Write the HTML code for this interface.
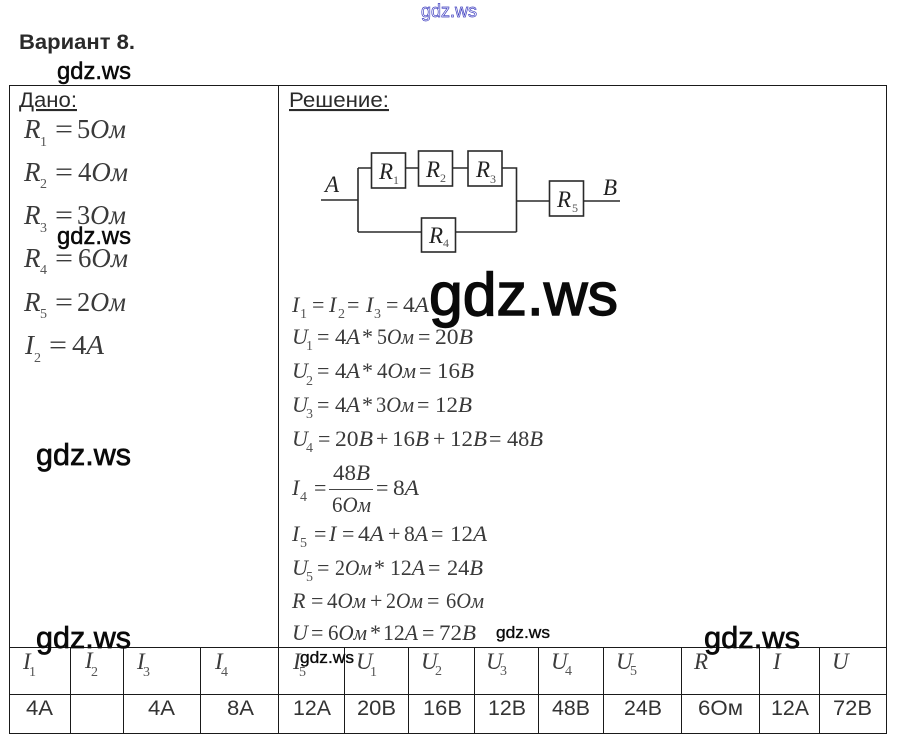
<!DOCTYPE html>
<html><head><meta charset="utf-8">
<style>
html,body{margin:0;padding:0;background:#fff;width:897px;height:747px;overflow:hidden}
svg{display:block}
text{white-space:pre}
.s{font-family:"Liberation Sans",sans-serif;fill:#2a2a2a}
.m{font-family:"Liberation Serif",serif;font-style:italic;fill:#3a3a3a}
.u{font-style:normal}
.n{font-family:"Liberation Serif",serif;font-size:14px;fill:#555}
.w{font-family:"Liberation Sans",sans-serif;fill:#0a0a0a;stroke:#0a0a0a}
.v{font-family:"Liberation Sans",sans-serif;font-size:21px;fill:#333}
.l{stroke:#1a1a1a;stroke-width:1;fill:none}
.c{stroke:#2a2a2a;stroke-width:1.6;fill:#fff}
.g{font-size:27px}
.r{font-size:22px}
.h{font-size:23px}
</style></head><body>
<svg width="897" height="747" viewBox="0 0 897 747" xmlns="http://www.w3.org/2000/svg">
<rect width="897" height="747" fill="#fff"/>
<text x="421" y="17" font-family="Liberation Sans,sans-serif" font-size="18" fill="#fff" stroke="#4040c0" stroke-width=".7" textLength="56" lengthAdjust="spacingAndGlyphs">gdz.ws</text>
<text x="19" y="49" class="s" font-size="21" font-weight="bold" fill="#222" textLength="116" lengthAdjust="spacingAndGlyphs">Вариант 8.</text>

<!-- table -->
<path class="l" d="M9.5 85.5H886.5V733.5H9.5ZM278.5 85.5V647.5M9.5 647.5H886.5M9.5 694.5H886.5M70.5 647.5V733.5M123.5 647.5V733.5M200.5 647.5V733.5M278.5 647.5V733.5M344.5 647.5V733.5M408.5 647.5V733.5M474.5 647.5V733.5M538.5 647.5V733.5M603.5 647.5V733.5M681.5 647.5V733.5M759.5 647.5V733.5M819.5 647.5V733.5"/>

<text x="19" y="107" class="s" font-size="21" text-decoration="underline" textLength="58" lengthAdjust="spacingAndGlyphs">Дано:</text>
<text x="289" y="107" class="s" font-size="21" text-decoration="underline" textLength="100" lengthAdjust="spacingAndGlyphs">Решение:</text>

<!-- given -->
<g class="m g">
<text x="24" y="138">R</text><text x="55" y="138" class="u" textLength="18" lengthAdjust="spacingAndGlyphs">=</text><text x="77" y="138" textLength="49" lengthAdjust="spacingAndGlyphs"><tspan class="u">5</tspan>Ом</text>
<text x="24" y="181">R</text><text x="55" y="181" class="u" textLength="18" lengthAdjust="spacingAndGlyphs">=</text><text x="78" y="181" textLength="50" lengthAdjust="spacingAndGlyphs"><tspan class="u">4</tspan>Ом</text>
<text x="24" y="224">R</text><text x="55" y="224" class="u" textLength="18" lengthAdjust="spacingAndGlyphs">=</text><text x="77" y="224" textLength="49" lengthAdjust="spacingAndGlyphs"><tspan class="u">3</tspan>Ом</text>
<text x="24" y="267">R</text><text x="55" y="267" class="u" textLength="18" lengthAdjust="spacingAndGlyphs">=</text><text x="78" y="267" textLength="50" lengthAdjust="spacingAndGlyphs"><tspan class="u">6</tspan>Ом</text>
<text x="24" y="311">R</text><text x="55" y="311" class="u" textLength="18" lengthAdjust="spacingAndGlyphs">=</text><text x="77" y="311" textLength="49" lengthAdjust="spacingAndGlyphs"><tspan class="u">2</tspan>Ом</text>
<text x="25" y="354">I</text><text x="49" y="354" class="u" textLength="18" lengthAdjust="spacingAndGlyphs">=</text><text x="72" y="354" textLength="32" lengthAdjust="spacingAndGlyphs"><tspan class="u">4</tspan>A</text>
</g>
<g class="n">
<text x="40" y="146">1</text><text x="40" y="188">2</text><text x="40" y="232">3</text><text x="40" y="274">4</text><text x="40" y="318">5</text><text x="34" y="362">2</text>
</g>

<!-- circuit -->
<path class="c" style="fill:none" d="M321 200H358M358 168V232M358 168H371M405 168H418M453 168H468M502 168H516.5V232M358 232H421M455 232H516.5M516.5 201H549M583 201H620"/>
<rect class="c" x="371.5" y="153" width="34" height="35"/>
<rect class="c" x="418.5" y="151" width="34" height="35"/>
<rect class="c" x="468" y="151" width="34" height="35"/>
<rect class="c" x="421.5" y="218" width="34" height="34"/>
<rect class="c" x="549.5" y="181" width="34" height="35"/>
<g class="m" font-size="23" style="fill:#222">
<text x="379" y="179">R</text><text x="426" y="177">R</text><text x="476" y="177">R</text><text x="429" y="243">R</text><text x="557" y="207">R</text>
<text x="325" y="192">A</text><text x="603" y="195">B</text>
</g>
<g class="n" style="font-size:12px">
<text x="393" y="184">1</text><text x="440" y="182">2</text><text x="490" y="183">3</text><text x="443" y="247">4</text><text x="572" y="212">5</text>
</g>

<!-- solution -->
<g class="m r">
<text x="292" y="312">I</text><text x="312" y="312" class="u">=</text>
<text x="329" y="312">I</text><text x="347" y="312" class="u">=</text>
<text x="366" y="312">I</text><text x="386" y="312" class="u">=</text><text x="403" y="312" textLength="26" lengthAdjust="spacingAndGlyphs"><tspan class="u">4</tspan>A</text>

<text x="292" y="344">U</text><text x="317" y="344" class="u">=</text><text x="335" y="344" textLength="25" lengthAdjust="spacingAndGlyphs"><tspan class="u">4</tspan>A</text><text x="362" y="344" class="u">*</text><text x="377" y="344" textLength="37" lengthAdjust="spacingAndGlyphs"><tspan class="u">5</tspan>Ом</text><text x="418" y="344" class="u">=</text><text x="435" y="344" textLength="38" lengthAdjust="spacingAndGlyphs"><tspan class="u">20</tspan>B</text>

<text x="292" y="378">U</text><text x="317" y="378" class="u">=</text><text x="335" y="378" textLength="25" lengthAdjust="spacingAndGlyphs"><tspan class="u">4</tspan>A</text><text x="362" y="378" class="u">*</text><text x="377" y="378" textLength="39" lengthAdjust="spacingAndGlyphs"><tspan class="u">4</tspan>Ом</text><text x="419" y="378" class="u">=</text><text x="437" y="378" textLength="37" lengthAdjust="spacingAndGlyphs"><tspan class="u">16</tspan>B</text>

<text x="292" y="412">U</text><text x="317" y="412" class="u">=</text><text x="335" y="412" textLength="25" lengthAdjust="spacingAndGlyphs"><tspan class="u">4</tspan>A</text><text x="362" y="412" class="u">*</text><text x="376" y="412" textLength="38" lengthAdjust="spacingAndGlyphs"><tspan class="u">3</tspan>Ом</text><text x="417" y="412" class="u">=</text><text x="435" y="412" textLength="37" lengthAdjust="spacingAndGlyphs"><tspan class="u">12</tspan>B</text>

<text x="292" y="446">U</text><text x="318" y="446" class="u">=</text><text x="335" y="446" textLength="38" lengthAdjust="spacingAndGlyphs"><tspan class="u">20</tspan>B</text><text x="376" y="446" class="u">+</text><text x="392" y="446" textLength="37" lengthAdjust="spacingAndGlyphs"><tspan class="u">16</tspan>B</text><text x="433" y="446" class="u">+</text><text x="450" y="446" textLength="37" lengthAdjust="spacingAndGlyphs"><tspan class="u">12</tspan>B</text><text x="489" y="446" class="u">=</text><text x="507" y="446" textLength="36" lengthAdjust="spacingAndGlyphs"><tspan class="u">48</tspan>B</text>

<text x="292" y="495">I</text><text x="314" y="495" class="u">=</text>
<text x="333" y="480" textLength="37" lengthAdjust="spacingAndGlyphs"><tspan class="u">48</tspan>B</text>
<text x="332" y="512" textLength="39" lengthAdjust="spacingAndGlyphs"><tspan class="u">6</tspan>Ом</text>
<text x="376" y="495" class="u">=</text><text x="393" y="495" textLength="26" lengthAdjust="spacingAndGlyphs"><tspan class="u">8</tspan>A</text>

<text x="292" y="541">I</text><text x="314" y="541" class="u">=</text><text x="329" y="541">I</text><text x="342" y="541" class="u">=</text><text x="358" y="541" textLength="26" lengthAdjust="spacingAndGlyphs"><tspan class="u">4</tspan>A</text><text x="388" y="541" class="u">+</text><text x="404" y="541" textLength="24" lengthAdjust="spacingAndGlyphs"><tspan class="u">8</tspan>A</text><text x="431" y="541" class="u">=</text><text x="450" y="541" textLength="37" lengthAdjust="spacingAndGlyphs"><tspan class="u">12</tspan>A</text>

<text x="292" y="575">U</text><text x="317" y="575" class="u">=</text><text x="335" y="575" textLength="37" lengthAdjust="spacingAndGlyphs"><tspan class="u">2</tspan>Ом</text><text x="374" y="575" class="u">*</text><text x="390" y="575" textLength="35" lengthAdjust="spacingAndGlyphs"><tspan class="u">12</tspan>A</text><text x="428" y="575" class="u">=</text><text x="447" y="575" textLength="36" lengthAdjust="spacingAndGlyphs"><tspan class="u">24</tspan>B</text>

<text x="292" y="608">R</text><text x="311" y="608" class="u">=</text><text x="327" y="608" textLength="39" lengthAdjust="spacingAndGlyphs"><tspan class="u">4</tspan>Ом</text><text x="370" y="608" class="u">+</text><text x="386" y="608" textLength="37" lengthAdjust="spacingAndGlyphs"><tspan class="u">2</tspan>Ом</text><text x="427" y="608" class="u">=</text><text x="446" y="608" textLength="38" lengthAdjust="spacingAndGlyphs"><tspan class="u">6</tspan>Ом</text>

<text x="292" y="640">U</text><text x="311" y="640" class="u">=</text><text x="328" y="640" textLength="39" lengthAdjust="spacingAndGlyphs"><tspan class="u">6</tspan>Ом</text><text x="370" y="640" class="u">*</text><text x="383" y="640" textLength="35" lengthAdjust="spacingAndGlyphs"><tspan class="u">12</tspan>A</text><text x="422" y="640" class="u">=</text><text x="439" y="640" textLength="37" lengthAdjust="spacingAndGlyphs"><tspan class="u">72</tspan>B</text>
</g>
<path d="M329 489.5H373" stroke="#444" stroke-width="1"/>
<g class="n">
<text x="300" y="318">1</text><text x="338" y="318">2</text><text x="374" y="318">3</text>
<text x="306" y="350">1</text><text x="306" y="385">2</text><text x="306" y="418">3</text><text x="306" y="452">4</text>
<text x="300" y="501">4</text><text x="300" y="547">5</text><text x="306" y="581">5</text>
</g>

<!-- table header -->
<g class="m h">
<text x="23" y="669">I</text><text x="85" y="668">I</text><text x="137" y="669">I</text><text x="215" y="669">I</text><text x="293" y="669">I</text>
<text x="356" y="669">U</text><text x="421" y="669">U</text><text x="486" y="669">U</text><text x="551" y="669">U</text><text x="616" y="669">U</text>
<text x="694" y="669">R</text><text x="773" y="669">I</text><text x="832" y="669">U</text>
</g>
<g class="n">
<text x="29" y="676">1</text><text x="91" y="676">2</text><text x="143" y="676">3</text><text x="221" y="676">4</text><text x="299" y="676">5</text>
<text x="370" y="676">1</text><text x="435" y="675">2</text><text x="500" y="675">3</text><text x="565" y="675">4</text><text x="630" y="675">5</text>
</g>

<!-- values -->
<g class="v">
<text x="26" y="715" textLength="27" lengthAdjust="spacingAndGlyphs">4A</text>
<text x="148" y="715" textLength="27" lengthAdjust="spacingAndGlyphs">4A</text>
<text x="227" y="715" textLength="27" lengthAdjust="spacingAndGlyphs">8A</text>
<text x="293" y="715" textLength="38" lengthAdjust="spacingAndGlyphs">12A</text>
<text x="357" y="715" textLength="39" lengthAdjust="spacingAndGlyphs">20B</text>
<text x="423" y="715" textLength="39" lengthAdjust="spacingAndGlyphs">16B</text>
<text x="488" y="715" textLength="38" lengthAdjust="spacingAndGlyphs">12B</text>
<text x="552" y="715" textLength="38" lengthAdjust="spacingAndGlyphs">48B</text>
<text x="624" y="715" textLength="38" lengthAdjust="spacingAndGlyphs">24B</text>
<text x="698" y="715" textLength="45" lengthAdjust="spacingAndGlyphs">6Ом</text>
<text x="771" y="715" textLength="38" lengthAdjust="spacingAndGlyphs">12A</text>
<text x="833" y="715" textLength="39" lengthAdjust="spacingAndGlyphs">72B</text>
</g>

<!-- watermarks -->
<text class="w" stroke-width=".5" x="57" y="79" font-size="24" textLength="74" lengthAdjust="spacingAndGlyphs">gdz.ws</text>
<text class="w" stroke-width=".5" x="57" y="244" font-size="24" textLength="74" lengthAdjust="spacingAndGlyphs">gdz.ws</text>
<text class="w" stroke-width="1.4" x="429" y="315" font-size="60" textLength="189" lengthAdjust="spacingAndGlyphs">gdz.ws</text>
<text class="w" stroke-width=".7" x="36" y="465" font-size="31" textLength="95" lengthAdjust="spacingAndGlyphs">gdz.ws</text>
<text class="w" stroke-width=".7" x="36" y="648" font-size="31" textLength="95" lengthAdjust="spacingAndGlyphs">gdz.ws</text>
<text class="w" stroke-width=".7" x="704" y="648" font-size="31" textLength="96" lengthAdjust="spacingAndGlyphs">gdz.ws</text>
<text class="w" stroke-width=".35" x="496" y="638" font-size="17" textLength="54" lengthAdjust="spacingAndGlyphs">gdz.ws</text>
<text class="w" stroke-width=".35" x="300" y="663" font-size="17" textLength="54" lengthAdjust="spacingAndGlyphs">gdz.ws</text>
</svg>
</body></html>
